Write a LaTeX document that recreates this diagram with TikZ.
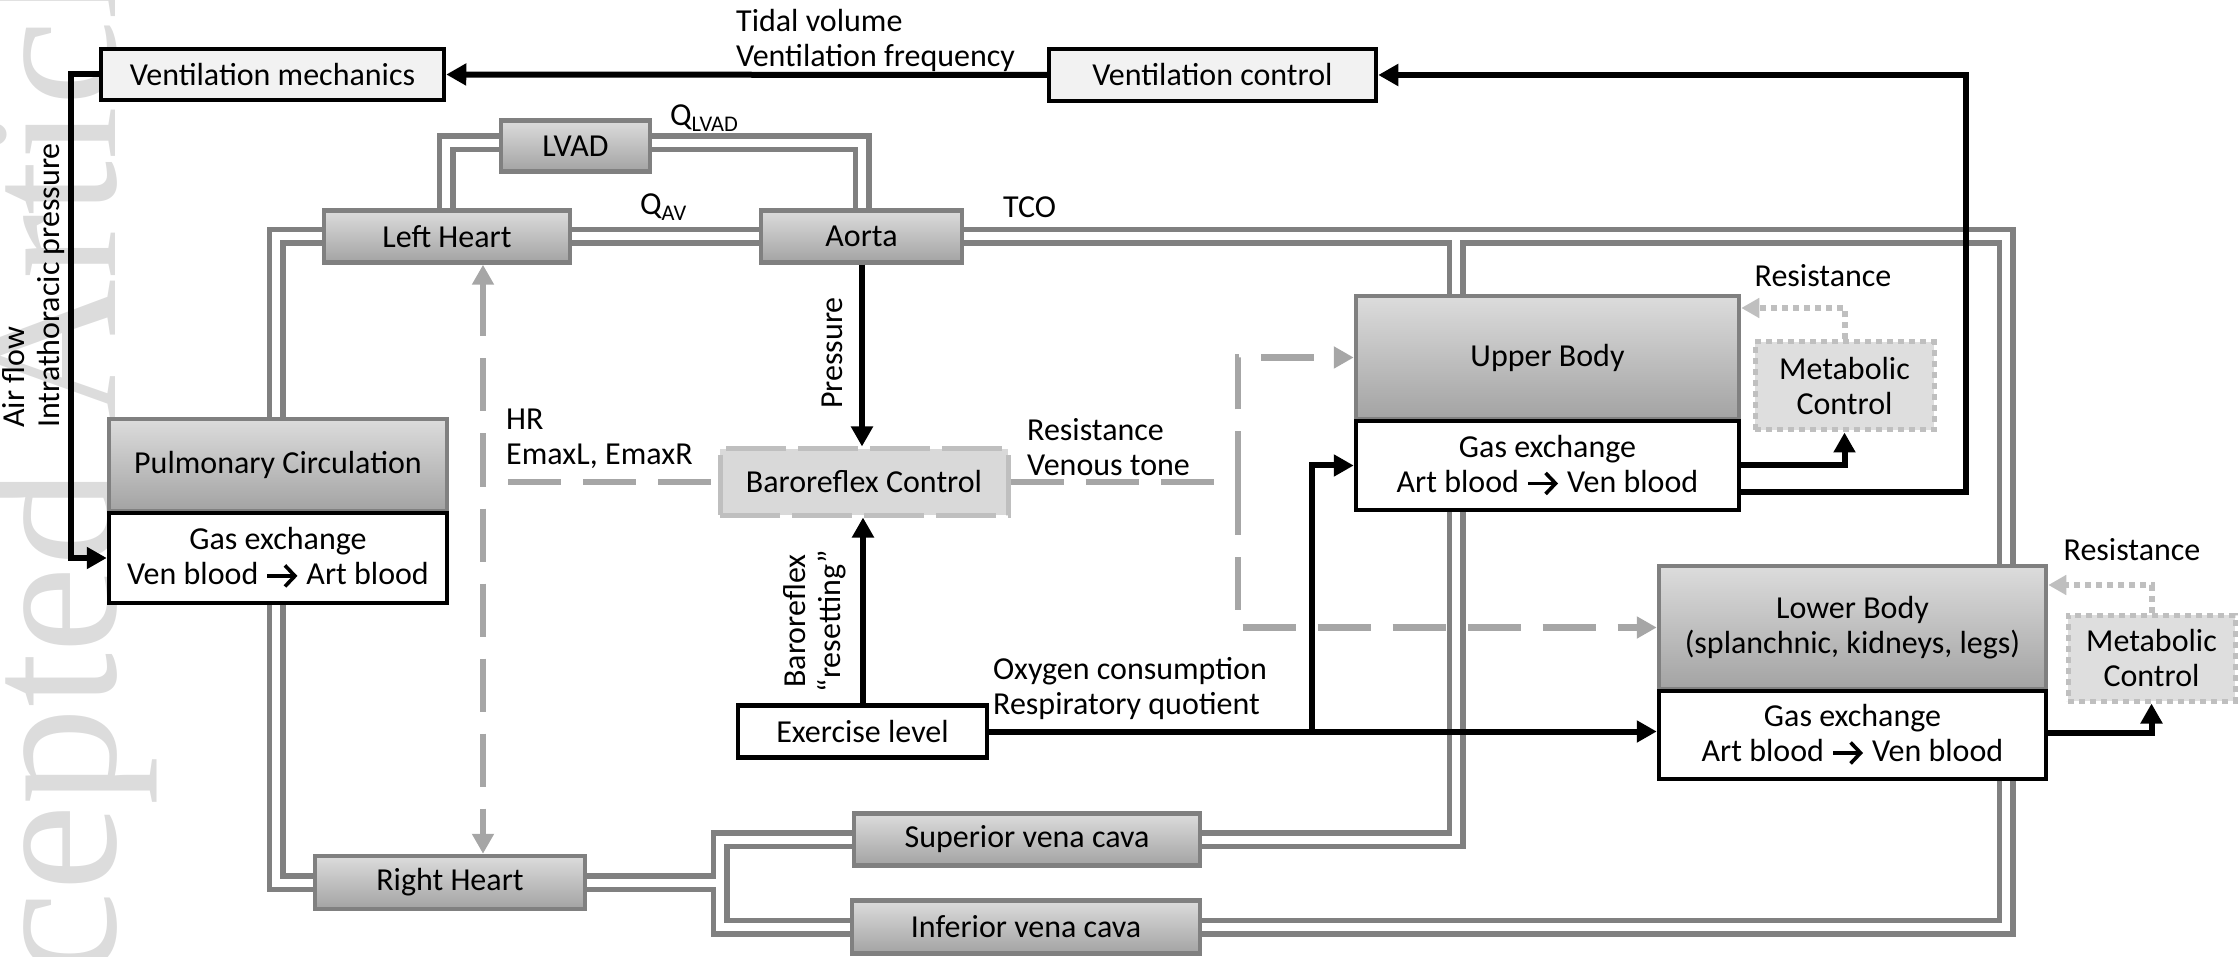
\documentclass[tikz,border=0pt]{standalone}
\usepackage{fontspec}
\setmainfont{Carlito}
\newfontfamily\wmf{Liberation Serif}
\usetikzlibrary{arrows.meta}
\pgfdeclarelayer{bg}
\pgfdeclarelayer{wm}
\pgfsetlayers{wm,bg,main}
\definecolor{pipegray}{HTML}{808080}
\definecolor{boxtop}{HTML}{DCDCDC}
\definecolor{boxbot}{HTML}{A3A3A3}
\definecolor{dashgray}{HTML}{A6A6A6}
\definecolor{dotgray}{HTML}{BFBFBF}
\definecolor{ctrlfill}{HTML}{D9D9D9}
\definecolor{metafill}{HTML}{DEDEDE}
\definecolor{ventfill}{HTML}{F2F2F2}
\definecolor{wmgray}{HTML}{DCDCDC}
\newcommand\fs{\fontsize{32}{35}\selectfont}
\newcommand\rarr{\tikz[baseline=-9pt]\draw[line width=3.6pt,-{Straight Barb[length=10pt,width=21pt,line width=3.6pt]}] (0pt,0pt) -- (30pt,0pt);}
\newcommand\pipepaths[1]{%
  \draw[#1] (lheart.north -| 446,0) |- (lvad.west |- 0,143);
  \draw[#1] (lvad.east |- 0,143) -| (aorta.north -| 862,0);
  \draw[#1] (lheart.east) -- (aorta.west);
  \draw[#1] (lheart.west) -| (rheart.west -| 276,0) -- (rheart.west);
  \draw[#1] (rheart.east) -- (rheart.east -| 720,0);
  \draw[#1] (svc.west) -| (ivc.west -| 720,0) -- (ivc.west);
  \draw[#1] (svc.east) -| (upgas.south -| 1456,0);
  \draw[#1] (uptop.north -| 1456,0) -- (aorta.east -| 1456,0);
  \draw[#1] (aorta.east) -| (lowtop.north -| 2006,0);
  \draw[#1] (lowgas.south -| 2006,0) |- (ivc.east);
}
\tikzset{
  graybox/.style={rectangle, draw=pipegray, line width=4.5pt, top color=boxtop, bottom color=boxbot, inner sep=0pt, font=\fs, align=center},
  gasbox/.style={rectangle, draw=black, line width=4.5pt, fill=white, inner sep=0pt, font=\fs, align=center},
  ventbox/.style={rectangle, draw=black, line width=4.5pt, fill=ventfill, inner sep=0pt, font=\fs, align=center},
  barobox/.style={rectangle, draw=dotgray, line width=5pt, dash pattern=on 60pt off 12pt, fill=ctrlfill, inner sep=0pt, font=\fs, align=center},
  metabox/.style={rectangle, draw=dotgray, line width=5pt, dash pattern=on 6pt off 5pt, fill=metafill, inner sep=0pt, font=\fs, align=center},
  lbl/.style={font=\fs, inner sep=0pt, align=left},
  blk/.style={draw=black, line width=6pt, -{Triangle[length=20pt,width=21pt]}},
  dsh/.style={draw=dashgray, line width=6.5pt, dash pattern=on 53pt off 22pt},
  dshar/.style={dsh, -{Triangle[length=20pt,width=21pt]}},
  dotar/.style={draw=dotgray, line width=6pt, dash pattern=on 6pt off 5pt, -{Triangle[length=18pt,width=19pt]}},
  pipeout/.style={draw=pipegray, line width=19pt},
  pipein/.style={draw=white, line width=8pt},
}
\begin{document}
\begin{tikzpicture}[x=1pt,y=-1pt]
\useasboundingbox (0,0) rectangle (2239,957);
\clip (0,0) rectangle (2239,957);
% watermark
\begin{pgfonlayer}{wm}
\node[rotate=90, anchor=base west, inner sep=0pt, text=wmgray, font=\wmf\fontsize{195}{195}\selectfont] (wmark) at (115,1206) {Accepted Article};
\end{pgfonlayer}
% boxes
\node[ventbox, minimum width=343pt, minimum height=51pt] (ventmech) at (272.5,74.5) {Ventilation mechanics};
\node[ventbox, minimum width=327pt, minimum height=52pt] (ventctrl) at (1212.5,75) {Ventilation control};
\node[graybox, minimum width=149pt, minimum height=51pt] (lvad) at (575.5,146) {LVAD};
\node[graybox, minimum width=246pt, minimum height=52pt] (lheart) at (447,236.5) {Left Heart};
\node[graybox, minimum width=201pt, minimum height=52pt] (aorta) at (861.5,236.5) {Aorta};
\node[graybox, minimum width=338pt, minimum height=92pt] (pulmtop) at (278,465) {Pulmonary Circulation};
\node[gasbox, minimum width=338pt, minimum height=90pt] (pulmgas) at (278,558) {Gas exchange\\Ven blood \rarr{} Art blood};
\node[barobox, minimum width=288pt, minimum height=66pt] (baro) at (864,482) {Baroreflex Control};
\node[gasbox, minimum width=249pt, minimum height=52pt] (exer) at (862.5,731.5) {Exercise level};
\node[graybox, minimum width=383pt, minimum height=123pt] (uptop) at (1547.5,357.5) {Upper Body};
\node[gasbox, minimum width=383pt, minimum height=89pt] (upgas) at (1547.5,465.5) {Gas exchange\\Art blood \rarr{} Ven blood};
\node[graybox, minimum width=387pt, minimum height=123pt] (lowtop) at (1852.5,627.5) {Lower Body\\(splanchnic, kidneys, legs)};
\node[gasbox, minimum width=387pt, minimum height=88pt] (lowgas) at (1852.5,735) {Gas exchange\\Art blood \rarr{} Ven blood};
\node[metabox, minimum width=179pt, minimum height=88pt] (metab1) at (1844.5,386) {Metabolic\\Control};
\node[metabox, minimum width=167pt, minimum height=86pt] (metab2) at (2151.5,658) {Metabolic\\Control};
\node[graybox, minimum width=270pt, minimum height=53pt] (rheart) at (450,882.5) {Right Heart};
\node[graybox, minimum width=346pt, minimum height=52pt] (svc) at (1027,839.5) {Superior vena cava};
\node[graybox, minimum width=348pt, minimum height=53pt] (ivc) at (1026,927) {Inferior vena cava};
% pipes
\begin{pgfonlayer}{bg}
\pipepaths{pipeout}
\pipepaths{pipein}
\end{pgfonlayer}
% labels
\node[lbl, anchor=west] (tidal) at (736,40) {Tidal volume\\Ventilation frequency};
\node[lbl, anchor=west] (qlvad) at (670,118) {Q\textsubscript{LVAD}};
\node[lbl, anchor=west] (qav) at (640,207) {Q\textsubscript{AV}};
\node[lbl, anchor=west] (tco) at (1003,207) {TCO};
\node[lbl, rotate=90, anchor=west] (airflow) at (34,428) {Air flow\\Intrathoracic pressure};
\node[lbl, rotate=90] (pressure) at (832,353) {Pressure};
\node[lbl, rotate=90, align=center] (reset) at (815,621) {Baroreflex\\“resetting”};
\node[lbl, anchor=west] (hr) at (506,439) {HR\\EmaxL, EmaxR};
\node[lbl, anchor=west] (restone) at (1027,447) {Resistance\\Venous tone};
\node[lbl, anchor=west] (oxy) at (993,689) {Oxygen consumption\\Respiratory quotient};
\node[lbl] (res1) at (1823,276) {Resistance};
\node[lbl] (res2) at (2132,550) {Resistance};
% black arrows
\draw[blk] (ventctrl.west) -- (ventmech.east);
\draw[blk] (upgas.east |- 0,492) -| (ventctrl.east -| 1966,0) -- (ventctrl.east);
\draw[blk] (ventmech.west) -| (pulmgas.west -| 71,0) -- (pulmgas.west);
\draw[blk] (aorta.south -| 862,0) -- (baro.north -| 862,0);
\draw[blk] (exer.north -| 863,0) -- (baro.south -| 863,0);
\draw[blk] (exer.east) -- (exer.east -| lowgas.west);
\coordinate (exsplit) at (1312,731.5);
\draw[blk] (exsplit) |- (upgas.west);
\draw[blk] (upgas.east) -| (metab1.south);
\draw[blk] (lowgas.east |- 0,733) -| (metab2.south);
% gray dashed
\coordinate (hrend) at (508,482);
\draw[dsh] (hrend) -- (baro.west);
\draw[dsh, {Triangle[length=20pt,width=21pt]}-{Triangle[length=20pt,width=21pt]}] (lheart.south -| 483,0) -- (rheart.north -| 483,0);
\coordinate (bsplit) at (1238,482);
\draw[dshar] (baro.east) -| (uptop.west -| bsplit) -- (uptop.west);
\draw[dshar] (bsplit) |- (lowtop.west);
% dotted
\draw[dotar] (metab1.north) |- (uptop.east |- 0,308);
\draw[dotar] (metab2.north) |- (lowtop.east |- 0,585);
\end{tikzpicture}
\end{document}
